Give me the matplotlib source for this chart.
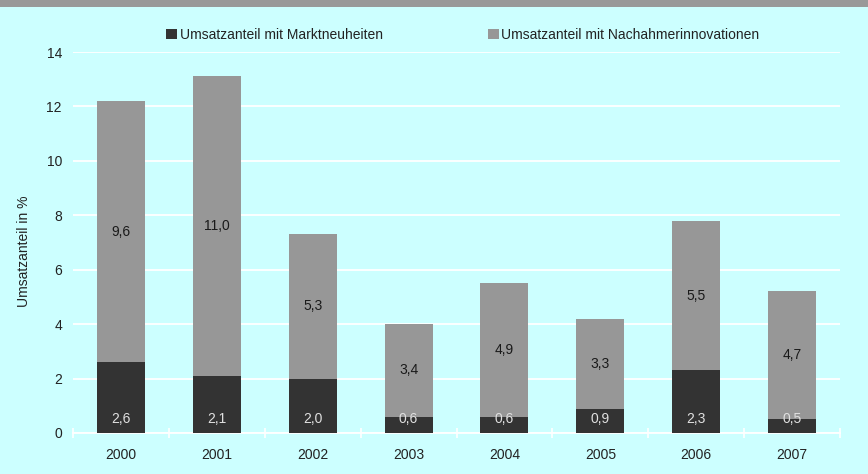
import matplotlib
matplotlib.use("Agg")
import matplotlib.pyplot as plt
import numpy as np
from matplotlib.patches import Rectangle

years = ["2000", "2001", "2002", "2003", "2004", "2005", "2006", "2007"]
markt = [2.6, 2.1, 2.0, 0.6, 0.6, 0.9, 2.3, 0.5]
nachahmer = [9.6, 11.0, 5.3, 3.4, 4.9, 3.3, 5.5, 4.7]
series_names = ["Umsatzanteil mit Marktneuheiten", "Umsatzanteil mit Nachahmerinnovationen"]
yticks = [0, 2, 4, 6, 8, 10, 12, 14]

BG = "#ccffff"
DARK = "#333333"
GRAY = "#979797"
FONT = "Liberation Sans"
FS = 10

fig = plt.figure(figsize=(8.68, 4.74), dpi=100, facecolor=BG)
fig.patches.append(Rectangle((0, 1 - 7 / 474), 1, 7 / 474, transform=fig.transFigure,
                             facecolor="#999999", edgecolor="none"))
ax = fig.add_axes([73 / 868, (474 - 433) / 474, (840 - 73) / 868, (433 - 52) / 474])
ax.set_facecolor(BG)

x = np.arange(len(years))
b1 = ax.bar(x, markt, width=0.5, color=DARK, label=series_names[0], zorder=3)
b2 = ax.bar(x, nachahmer, width=0.5, bottom=markt, color=GRAY, label=series_names[1], zorder=3)

fmt = lambda v: f"{v:.1f}".replace(".", ",")
for i in range(len(years)):
    ax.text(x[i], 0.5, fmt(markt[i]), ha="center", va="center", color="#e0e0e0",
            fontsize=FS, family=FONT, zorder=4)
    ax.text(x[i], markt[i] + nachahmer[i] / 2, fmt(nachahmer[i]), ha="center", va="center",
            color="#1a1a1a", fontsize=FS, family=FONT, zorder=4)

ax.set_xlim(-0.5, len(years) - 0.5)
ax.set_ylim(0, 14)
ax.set_yticks(yticks)
ax.set_yticklabels([str(t) for t in yticks], family=FONT, fontsize=FS, color="#222222")
ax.set_xticks(x)
ax.set_xticklabels(years, family=FONT, fontsize=FS, color="#222222")
ax.set_xticks(np.arange(-0.5, len(years), 1.0), minor=True)
ax.tick_params(axis="x", which="major", length=0, pad=11)
ax.tick_params(axis="x", which="minor", length=7, direction="inout", color="white", width=1.2)
ax.tick_params(axis="y", length=0, pad=8)
ax.grid(axis="y", color="white", linewidth=1.3, zorder=0)
for s in ["top", "right", "left"]:
    ax.spines[s].set_visible(False)
ax.spines["bottom"].set_color("white")
ax.spines["bottom"].set_linewidth(1.3)
ax.spines["bottom"].set_zorder(2)

ax.set_ylabel("Umsatzanteil in %", family=FONT, fontsize=FS, color="#222222")
ax.yaxis.set_label_coords(-42 / 767, 0.5 - 9 / 381)

leg = fig.legend(handles=[b1, b2], loc="center", bbox_to_anchor=(463 / 868, 1 - 35 / 474),
                 ncol=2, frameon=False, handlelength=0.75, handleheight=0.75, handletextpad=0.2,
                 columnspacing=7.6, prop={"family": FONT, "size": 10})
for t in leg.get_texts():
    t.set_color("#222222")

fig.savefig("out.png", dpi=100, facecolor=BG)
